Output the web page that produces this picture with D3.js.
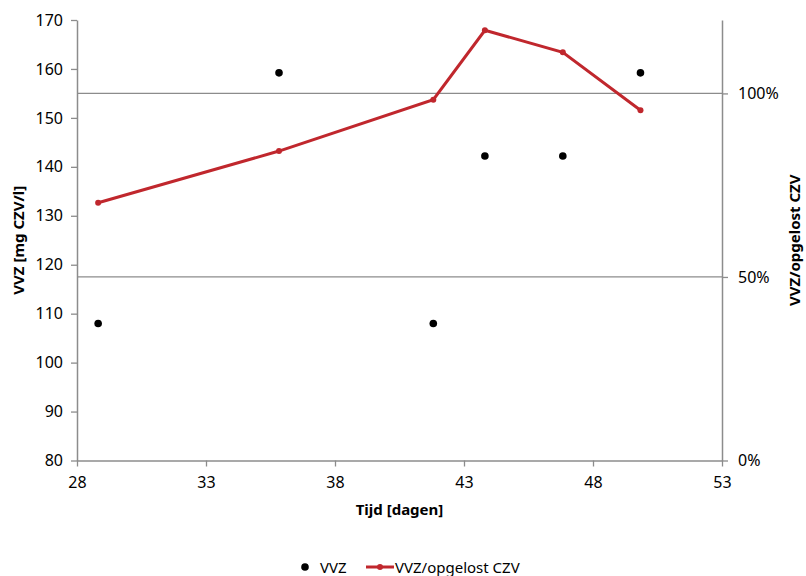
<!DOCTYPE html>
<html>
<head>
<meta charset="utf-8">
<script src="https://cdn.jsdelivr.net/npm/d3@7"></script>
<style>
body{margin:0;background:#fff;}
svg text{font-family:"Noto Sans","Open Sans",sans-serif;fill:#000;}
</style>
</head>
<body>
<svg id="chart" width="806" height="576"></svg>
<script>
// dagen (tijd) per meting
var days = [28.82, 35.83, 41.81, 43.81, 46.83, 49.84];
// VVZ in mg CZV/l
var vvz = [108, 159.2, 108, 142.2, 142.2, 159.2];
// VVZ / opgelost CZV (fractie)
var ratio = [0.702, 0.843, 0.983, 1.172, 1.112, 0.954];

var xTicks = [28, 33, 38, 43, 48, 53];
var yTicks = [80, 90, 100, 110, 120, 130, 140, 150, 160, 170];
var rTicks = [0, 0.5, 1.0];

var svg = d3.select("#chart");
// let op: "top" is al window.top, dus andere namen
var pLeft = 77, pRight = 722, pTop = 20, pBottom = 460.5;
var axisColor = "#8c8c8c";
var red = "#c0272d";

var x = d3.scaleLinear().domain([28, 53]).range([pLeft, pRight]);
var y = d3.scaleLinear().domain([80, 170]).range([pBottom, pTop]);
var yr = d3.scaleLinear().domain([0, 1.2]).range([pBottom, pTop]);

// gridlines van de rechter as
svg.append("g").selectAll("line").data([0.5, 1.0]).enter().append("line")
	.attr("x1", pLeft).attr("x2", pRight)
	.attr("y1", function(d){ return yr(d); })
	.attr("y2", function(d){ return yr(d); })
	.style("stroke", axisColor).style("stroke-width", 1.3);

function styleAxis(g){
	g.select(".domain").style("stroke", axisColor).style("stroke-width", 1.5);
	g.selectAll(".tick line").style("stroke", axisColor).style("stroke-width", 1.3);
	g.selectAll(".tick text").style("font-size", "16px").style("font-family", '"Noto Sans",sans-serif').attr("fill", "#000");
}

var gx = svg.append("g").attr("transform", "translate(0," + pBottom + ")")
	.call(d3.axisBottom(x).tickValues(xTicks).tickSize(6).tickSizeOuter(0).tickPadding(10));
styleAxis(gx);

var gy = svg.append("g").attr("transform", "translate(" + pLeft + ",0)")
	.call(d3.axisLeft(y).tickValues(yTicks).tickSize(6).tickSizeOuter(0).tickPadding(8));
styleAxis(gy);

var gr = svg.append("g").attr("transform", "translate(" + pRight + ",0)")
	.call(d3.axisRight(yr).tickValues(rTicks).tickFormat(d3.format(".0%")).tickSize(6).tickSizeOuter(0).tickPadding(10));
styleAxis(gr);

// VVZ punten
svg.append("g").selectAll("circle").data(days).enter().append("circle")
	.attr("cx", function(d){ return x(d); })
	.attr("cy", function(d, i){ return y(vvz[i]); })
	.attr("r", 3.8)
	.style("fill", "#000");

// VVZ/opgelost CZV lijn
var line = d3.line()
	.x(function(d){ return x(d); })
	.y(function(d, i){ return yr(ratio[i]); });
svg.append("path").datum(days)
	.attr("d", line)
	.style("fill", "none").style("stroke", red).style("stroke-width", 3);
svg.append("g").selectAll("circle").data(days).enter().append("circle")
	.attr("cx", function(d){ return x(d); })
	.attr("cy", function(d, i){ return yr(ratio[i]); })
	.attr("r", 3)
	.style("fill", red);

// as titels
svg.append("text")
	.attr("transform", "translate(24," + (pTop + pBottom) / 2 + ") rotate(-90)")
	.attr("text-anchor", "middle")
	.style("font-size", "15px").style("font-weight", "bold")
	.text("VVZ [mg CZV/l]");
svg.append("text")
	.attr("x", (pLeft + pRight) / 2).attr("y", 515)
	.attr("text-anchor", "middle")
	.style("font-size", "15px").style("font-weight", "bold")
	.text("Tijd [dagen]");
svg.append("text")
	.attr("transform", "translate(800," + (pTop + pBottom) / 2 + ") rotate(-90)")
	.attr("text-anchor", "middle")
	.style("font-size", "15px").style("font-weight", "bold")
	.text("VVZ/opgelost CZV");

// legenda
var lg = svg.append("g").attr("transform", "translate(0,567)");
lg.append("circle").attr("cx", 305).attr("cy", 0).attr("r", 3.8).style("fill", "#000");
lg.append("text").attr("x", 320).attr("y", 5.5).style("font-size", "15px").text("VVZ");
lg.append("line").attr("x1", 366).attr("x2", 394).attr("y1", 0).attr("y2", 0)
	.style("stroke", red).style("stroke-width", 3);
lg.append("circle").attr("cx", 380).attr("cy", 0).attr("r", 3).style("fill", red);
lg.append("text").attr("x", 395).attr("y", 5.5).style("font-size", "15px").text("VVZ/opgelost CZV");
</script>
</body>
</html>
